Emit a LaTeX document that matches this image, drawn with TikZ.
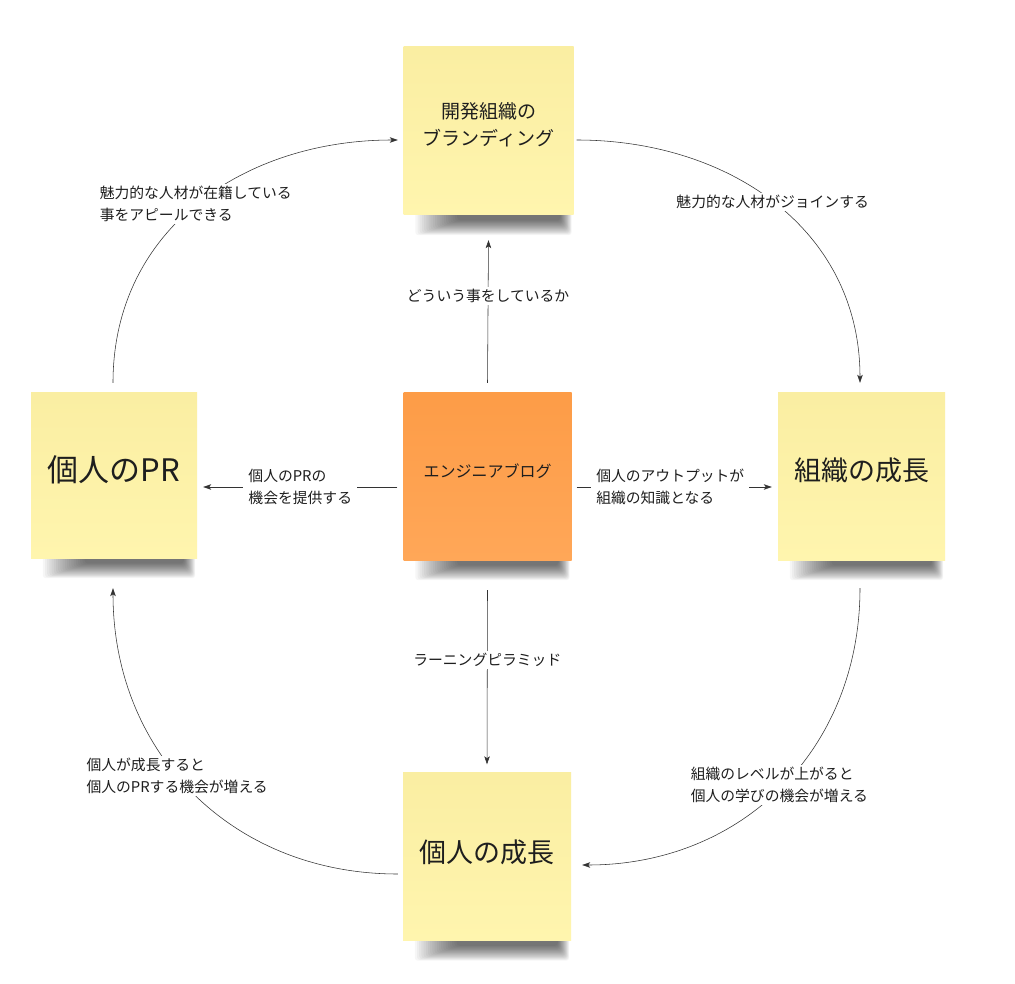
\documentclass[tikz,border=0pt]{standalone}
\usepackage{fontspec}
\setmainfont{Noto Sans CJK JP}
\usetikzlibrary{arrows.meta,calc,backgrounds}
\definecolor{stickyY}{HTML}{FFF5AE}
\definecolor{stickyYtop}{HTML}{FAEEA2}
\definecolor{stickyO}{HTML}{FD9C47}
\definecolor{stickyOb}{HTML}{FFA758}
\definecolor{linec}{HTML}{333333}
\definecolor{textc}{HTML}{1E1E1E}
\tikzset{
  note/.style={minimum width=168pt, minimum height=168pt, inner sep=0pt, top color=stickyYtop, bottom color=stickyY},
  onote/.style={note, top color=stickyO, bottom color=stickyOb},
  bigtxt/.style={font=\fontsize{27}{32}\selectfont, text=textc, inner sep=0pt},
  midtxt/.style={font=\fontsize{19}{27}\selectfont, text=textc, align=center, inner sep=0pt},
  smalltxt/.style={font=\fontsize{16}{20}\selectfont, text=textc, inner sep=0pt},
  lbl/.style={font=\fontsize{14.8}{22}\selectfont, text=textc, fill=white, inner xsep=5pt, inner ysep=2pt, align=left},
  arr/.style={draw=linec, line width=0.55pt, -{Stealth[length=8pt,width=5.5pt,inset=2pt]}},
  shadowlayer/.style={fill=black, fill opacity=0.034, rounded corners=3pt},
}
\begin{document}
\begin{tikzpicture}[x=1pt,y=1pt]
\useasboundingbox (0,0) rectangle (1015,-984);

% sticky notes
\node[note, minimum width=170pt] (brand) at (488.5,-131) {};
\node[onote] (blog) at (487.5,-476) {};
\node[note, minimum width=166pt, minimum height=166pt] (pr) at (114,-475) {};
\node[note, minimum width=167pt] (org) at (861.5,-476) {};
\node[note] (grow) at (487,-856.5) {};

% background and shadows
\begin{scope}[on background layer]
\fill[white] (0,0) rectangle (1015,-984);
\foreach \n in {brand,blog,pr,org,grow}{
  \foreach \i in {0,...,19}{
    \fill[shadowlayer] ($(\n.south west)+(12+2.2*\i,4)$) rectangle ($(\n.south east)+(-2-0.6*\i,-20+0.78*\i)$);
  }
}
\end{scope}

% note texts
\node[midtxt] (brandT) at ($(brand.center)+(0,6)$) {開発組織の\\ブランディング};
\node[smalltxt] (blogT) at ($(blog.center)+(0,5)$) {エンジニアブログ};
\node[bigtxt, font=\fontsize{31}{36}\selectfont] (prT) at ($(pr.center)+(0,5)$) {個人のPR};
\node[bigtxt] (orgT) at ($(org.center)+(0,5.5)$) {組織の成長};
\node[bigtxt] (growT) at ($(grow.center)+(0,4.5)$) {個人の成長};

% straight connectors from the blog
\draw[arr] ([yshift=9pt]blog.north) -- node[lbl, pos=0.61] (l1) {どういう事をしているか} ([yshift=-25pt]brand.south);
\draw[arr] ([xshift=-6pt,yshift=-11pt]blog.west) -- node[lbl, midway] (l2) {個人のPRの\\機会を提供する} ([xshift=6pt,yshift=-12pt]pr.east);
\draw[arr] ([xshift=5pt,yshift=-11pt]blog.east) -- node[lbl, midway, xshift=-4pt] (l3) {個人のアウトプットが\\組織の知識となる} ([xshift=-6pt,yshift=-11pt]org.west);
\draw[arr] ([yshift=-30pt]blog.south) -- node[lbl, pos=0.4] (l4) {ラーニングピラミッド} ([yshift=8pt]grow.north);

% cycle arcs
\draw[arr] ([xshift=3pt,yshift=-9pt]brand.east) to[out=0,in=90,looseness=1.05]
  node[lbl, pos=0.5, xshift=-3pt, yshift=2pt] (c1) {魅力的な人材がジョインする} ([xshift=-1.5pt,yshift=9pt]org.north);
\draw[arr] ([xshift=-1.5pt,yshift=-28pt]org.south) to[out=-90,in=0,looseness=1.05]
  node[lbl, pos=0.5, xshift=-2pt, yshift=2pt] (c2) {組織のレベルが上がると\\個人の学びの機会が増える} ([xshift=11pt,yshift=-8.5pt]grow.east);
\draw[arr] ([xshift=-5pt,yshift=-17.5pt]grow.west) to[out=180,in=-90,looseness=1.05]
  node[lbl, pos=0.56, xshift=1pt, yshift=-2pt] (c3) {個人が成長すると\\個人のPRする機会が増える} ([xshift=-1pt,yshift=-30pt]pr.south);
\draw[arr] ([xshift=-1pt,yshift=9pt]pr.north) to[out=90,in=180,looseness=1.05]
  node[lbl, pos=0.5, xshift=-2pt] (c4) {魅力的な人材が在籍している\\事をアピールできる} ([xshift=-5.5pt,yshift=-9pt]brand.west);
\end{tikzpicture}
\end{document}
